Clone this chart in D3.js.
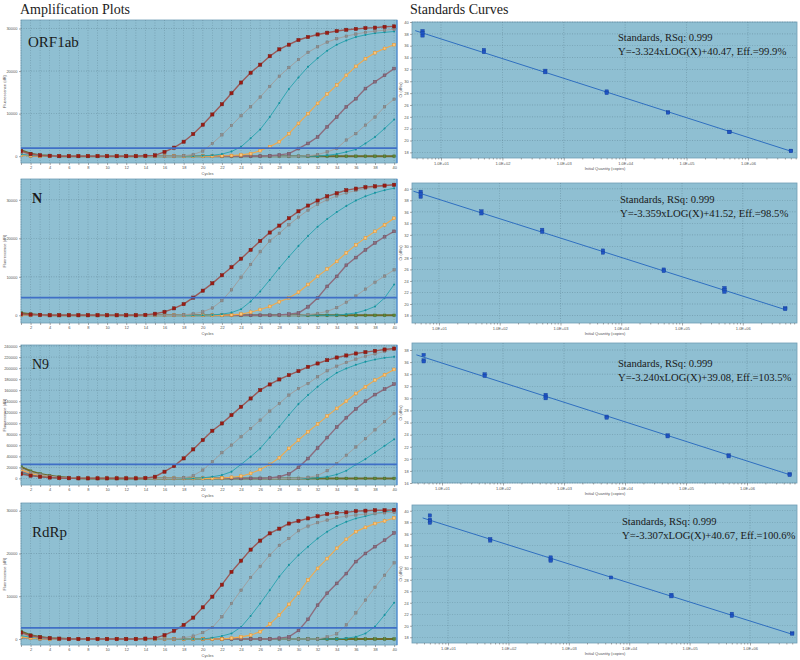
<!DOCTYPE html>
<html>
<head>
<meta charset="utf-8">
<script src="https://cdn.jsdelivr.net/npm/d3@7"></script>
<style>
  body { margin: 0; background: #ffffff; }
  svg { display: block; }
</style>
</head>
<body>
<div id="chart"></div>
<script>
// ---------- data (fluorescence in thousands of RFU, cycles 1..40) ----------
const cycles = d3.range(1, 41);
const panelNames = ['ORF1ab', 'N', 'N9', 'RdRp'];

// order of curves: 5e6, 5e5, 5e4, 5e3, 5e2, 50, 5 copies
const orf1abCurves = [
  [1.2,0.5,0.2,0.1,0,0,0,0,0,0, 0,0,0,0.1,0.2,1.0,2.0,3.4,5.2,7.4, 9.8,12.2,14.8,17.3,19.6,21.5,23.5,25.1,26.2,27.3, 28.0,28.6,29.0,29.4,29.7,29.9,30.1,30.2,30.4,30.5],
  [1.0,0.4,0.2,0.1,0,0,0,0,0,0, 0,0,0,0,0,0,0,0.1,0.4,1.2, 3.0,5.0,7.2,9.5,11.6,13.9,16.4,18.8,20.8,22.7, 24.4,25.7,26.8,27.6,28.2,28.7,29.1,29.4,29.6,29.8],
  [0.4,0.2,0.1,0,0,0,0,0,0,0, 0,0,0,0,0,0,0,0,0,0.1, 0.2,0.5,1.1,2.2,4.2,6.3,9.2,12.5,15.8,18.5, 21.0,23.0,24.8,26.2,27.2,28.0,28.5,28.9,29.1,29.3],
  [0.2,0.1,0,0,0,0,0,0,0,0, 0,0,0,0,0,0,0,0,0,0, 0,0.1,0.15,0.3,0.6,1.3,2.2,3.4,5.3,7.7, 10.0,12.4,14.6,16.7,19.0,21.1,22.9,24.3,25.3,26.2],
  [0.3,0.1,0,0,0,0,0,0,0,0, 0,0,0,0,0,0,0,0,0,0, 0,0,0,0,0,0,0.1,0.3,0.6,1.8, 3.0,4.5,6.9,9.2,11.6,13.5,15.9,17.5,19.0,20.6],
  [0.3,0.1,0,0,0,0,0,0,0,0, 0,0,0,0,0,0,0,0,0,0, 0,0,0,0,0,0,0,0,0,0, 0.1,0.4,1.0,1.8,3.8,5.3,7.3,9.2,11.6,13.4],
  [0.2,0.1,0,0,0,0,0,0,0,0, 0,0,0,0,0,0,0,0,0,0, 0,0,0,0,0,0,0,0,0,0, 0,0,0.2,0.5,1.0,1.6,3.0,4.5,6.5,8.6]
];
const orf1abNegative = [1.4,0.6,0.2,0.1,0,0,0,0,0,0, 0,0,0,0,0,0,0,0,0,0, 0,0,0,0,0,0,0,0,0,0, 0,0,0,0,0,0,0,0,0,0];

const nCurves = [
  [0.3,0.2,0.1,0,0,0,0,0,0,0, 0,0,0,0.1,0.4,0.9,1.8,2.9,4.6,6.4, 8.3,10.4,12.5,14.7,17.0,19.3,21.5,23.3,25.2,27.0, 28.5,29.8,30.9,31.7,32.5,32.9,33.3,33.5,33.7,33.9],
  [0.2,0.1,0,0,0,0,0,0,0,0, 0,0,0,0,0,0,0,0.1,0.4,0.9, 1.9,3.8,6.6,9.9,13.2,16.5,19.3,21.3,23.5,25.5, 27.3,28.8,30.0,31.0,31.8,32.4,32.9,33.3,33.6,33.9],
  [0.2,0.1,0,0,0,0,0,0,0,0, 0,0,0,0,0,0,0,0,0,0, 0.1,0.3,0.7,1.6,3.6,6.2,9.2,12.3,15.2,18.0, 20.6,23.0,25.0,26.8,28.4,29.8,30.9,31.8,32.5,33.0],
  [0.1,0,0,0,0,0,0,0,0,0, 0,0,0,0,0,0,0,0,0,0, 0,0,0.1,0.3,0.8,1.5,2.3,3.5,4.5,6.0, 8.0,10.1,12.0,14.0,16.2,18.3,20.1,21.8,23.5,25.2],
  [0.1,0,0,0,0,0,0,0,0,0, 0,0,0,0,0,0,0,0,0,0, 0,0,0,0,0,0,0,0.1,0.3,0.6, 2.2,4.5,7.5,10.1,13.0,15.0,17.0,18.8,20.4,21.8],
  [0.1,0,0,0,0,0,0,0,0,0, 0,0,0,0,0,0,0,0,0,0, 0,0,0,0,0,0,0,0,0,0, 0.2,0.5,1.0,2.0,3.4,5.0,6.8,8.6,10.2,11.8],
  [0.1,0,0,0,0,0,0,0,0,0, 0,0,0,0,0,0,0,0,0,0, 0,0,0,0,0,0,0,0,0,0, 0,0,0,0,0.3,0.6,1.3,2.3,4.5,8.0]
];
const nNegative = [0.6,0.3,0.1,0,0,0,0,0,0,0, 0,0,0,0,0,0,0,0,0,0, 0,0,0,0,0,0,0,0,0,0, 0,0,0,0,0,0,0,0,0,0];

const n9Curves = [
  [8,5,3,1.5,0.8,0.3,0.1,0,0,0, 0,0,0,0.5,3.0,12.1,22.4,36.3,52.6,69.5, 86.4,99.7,114.8,129.9,145.0,160.1,170.4,179.5,187.3,194.6, 202.4,208.5,214.5,219.3,223.0,226.6,229.0,231.4,233.8,235.6],
  [18,11,7,4,2,1,0.4,0,0,0, 0,0,0,0,0,0,0,1.0,5.0,15.1, 30.2,46.5,60.4,75.5,90.6,105.7,122.1,135.9,151.1,163.1, 172.2,184.3,195.2,203.6,210.3,216.3,221.8,226.0,230.2,233.8],
  [10,6,3,1.5,0.7,0.3,0,0,0,0, 0,0,0,0,0,0,0,0,0,1.0, 3.0,6.0,12.1,25.4,39.3,54.4,74.3,93.7,115.0,135.0, 151.1,166.2,179.5,191.5,199.4,206.0,211.5,215.7,218.7,220.5],
  [16,9,5,2.5,1,0.4,0,0,0,0, 0,0,0,0,0,0,0,0,0,0, 0,0.8,2.0,4.0,9.0,16.0,25.4,37.5,54.4,69.5, 84.6,98.5,113.0,126.9,140.0,154.1,166.2,178.2,188.0,197.6],
  [12,7,4,2,1,0.3,0,0,0,0, 0,0,0,0,0,0,0,0,0,0, 0,0,0,0,0,0,1.0,3.0,8.0,20.0, 36.0,55.0,74.0,93.0,110.0,126.0,140.0,152.0,162.0,171.0],
  [15,9,5,2.5,1,0.4,0,0,0,0, 0,0,0,0,0,0,0,0,0,0, 0,0,0,0,0,0,0,0,0,0, 2.0,5.0,14.0,27.0,42.0,57.0,72.0,88.0,103.0,118.0],
  [9,5,3,1.5,0.6,0.2,0,0,0,0, 0,0,0,0,0,0,0,0,0,0, 0,0,0,0,0,0,0,0,0,0, 0,1.0,3.0,7.0,14.0,25.0,35.0,47.0,59.0,71.0]
];
const n9Negative = [21,13,8,5,2.5,1,0.3,0,0,0, 0,0,0,0,0,0,0,0,0,0, 0,0,0,0,0,0,0,0,0,0, 0,0,0,0,0,0,0,0,0,0];

const rdrpCurves = [
  [1.5,0.8,0.4,0.2,0.1,0,0,0,0,0, 0,0,0,0.1,0.2,0.9,1.9,3.3,5.0,7.4, 9.9,12.7,15.7,18.3,20.9,23.0,24.7,25.8,27.0,27.6, 28.2,28.7,29.2,29.5,29.6,29.9,30.0,30.1,30.1,30.2],
  [1.2,0.6,0.3,0.1,0,0,0,0,0,0, 0,0,0,0,0,0,0,0.3,0.7,1.5, 2.7,5.2,8.3,11.4,14.4,17.0,19.6,21.9,23.5,25.3, 26.4,27.2,27.8,28.4,28.7,29.0,29.2,29.3,29.5,29.6],
  [0.8,0.4,0.2,0.1,0,0,0,0,0,0, 0,0,0,0,0,0,0,0,0,0, 0.3,0.7,1.3,2.8,5.4,8.3,11.4,14.6,17.3,19.6, 21.6,23.5,25.1,26.4,27.4,28.2,28.7,29.3,29.7,30.1],
  [0.5,0.2,0.1,0,0,0,0,0,0,0, 0,0,0,0,0,0,0,0,0,0, 0,0,0.2,0.5,0.9,1.7,3.5,5.6,8.1,10.7, 13.8,16.5,18.8,21.2,23.3,25.1,26.1,27.0,27.6,28.3],
  [0.4,0.2,0.1,0,0,0,0,0,0,0, 0,0,0,0,0,0,0,0,0,0, 0,0,0,0,0,0,0,0.2,0.5,2.0, 4.6,7.9,10.7,13.0,15.3,18.1,20.0,21.6,23.1,24.8],
  [0.3,0.1,0,0,0,0,0,0,0,0, 0,0,0,0,0,0,0,0,0,0, 0,0,0,0,0,0,0,0,0,0, 0,0,0.5,1.2,3.3,6.1,9.1,12.1,14.9,17.8],
  [0.3,0.1,0,0,0,0,0,0,0,0, 0,0,0,0,0,0,0,0,0,0, 0,0,0,0,0,0,0,0,0,0, 0,0,0,0,0.2,0.5,1.3,2.9,5.6,8.5]
];
const rdrpNegative = [1.8,0.9,0.5,0.2,0.1,0,0,0,0,0, 0,0,0,0,0,0,0,0,0,0, 0,0,0,0,0,0,0,0,0,0, 0,0,0,0,0,0,0,0,0,0];

const thresholds = [1900, 4600, 25400, 2600];
const ampYTicks = [
  [0, 10000, 20000, 30000],
  [0, 10000, 20000, 30000],
  d3.range(0, 240001, 20000),
  [0, 10000, 20000, 30000]
];

// standard curves: copies per reaction and replicate Ct values
const quantities = [5, 50, 500, 5000, 50000, 500000, 5000000];
const orf1abStdCt = [[38.5,38.1,37.7],[35.3,34.9],[31.8,31.5],[28.3,28.0],[24.8,24.7],[21.5,21.4],[18.3,18.2]];
const nStdCt = [[39.5,39.1,38.6],[36.1,35.7],[32.9,32.5],[29.3,28.9],[26.0,25.7],[22.8,22.4,22.1],[19.3,19.1]];
const n9StdCt = [[37.2,36.3,36.1],[34.0,33.7],[30.6,30.3,30.0],[27.0,26.8],[23.9,23.7],[20.6,20.4],[17.5,17.3]];
const rdrpStdCt = [[39.2,38.5,38.2,37.9],[35.1,34.8],[31.9,31.5,31.3],[28.4],[25.4,25.1],[22.1,21.7],[18.7,18.6]];

const slopes = [-3.324, -3.359, -3.240, -3.307];
const intercepts = [40.47, 41.52, 39.08, 40.67];
const efficiencies = ['99.9%', '98.5%', '103.5%', '100.6%'];
const rsq = ['0.999', '0.999', '0.999', '0.999'];
const decadeTicks = [1e1, 1e2, 1e3, 1e4, 1e5, 1e6];

const allCurves = [orf1abCurves, nCurves, n9Curves, rdrpCurves];
const allNegatives = [orf1abNegative, nNegative, n9Negative, rdrpNegative];
const allStdCt = [orf1abStdCt, nStdCt, n9StdCt, rdrpStdCt];

// ---------- layout / styles ----------
const ampBoxes = [
  { top: 20, bottom: 163, yDomain: [-1600, 32000] },
  { top: 179, bottom: 323, yDomain: [-2000, 35400] },
  { top: 345, bottom: 485, yDomain: [-12000, 242000] },
  { top: 503, bottom: 645, yDomain: [-1400, 31800] }
];
const stdBoxes = [
  { top: 22, bottom: 158, yDomain: [17.05, 40], xDomain: [3.37, 6.3e6], yTicks: d3.range(18, 41, 2) },
  { top: 183, bottom: 323, yDomain: [16.7, 41.0], xDomain: [3.6, 7.8e6], yTicks: d3.range(18, 41, 2) },
  { top: 343, bottom: 483, yDomain: [16.0, 39.16], xDomain: [3.22, 6.6e6], yTicks: d3.range(16, 39, 2) },
  { top: 505, bottom: 643, yDomain: [17.0, 41.0], xDomain: [2.53, 6.0e6], yTicks: d3.range(18, 41, 2) }
];
const nameLabels = [
  { x: 28, y: 47, size: 15, weight: 'normal' },
  { x: 32, y: 203, size: 14, weight: 'bold' },
  { x: 32, y: 369, size: 14, weight: 'normal' },
  { x: 32, y: 537, size: 15, weight: 'normal' }
];
const stdTextPos = [
  { x: 618, y: 41 }, { x: 620, y: 203 }, { x: 618, y: 367 }, { x: 622, y: 525 }
];

const curveStyles = [
  { line: '#9a5a58', lw: 1.4, mark: 'square', size: 3.2, fill: '#9c1a12', stroke: '#74201a' },
  { line: '#a0a0a0', lw: 1, mark: 'square', size: 2.4, fill: '#8f8f8f', stroke: '#7a7a7a' },
  { line: '#26a3ae', lw: 0.9, mark: 'circle', size: 1, fill: '#14909c', stroke: 'none' },
  { line: '#f2aa4c', lw: 1.1, mark: 'square', size: 2.8, fill: '#f8c47c', stroke: '#e8952c' },
  { line: '#8c6d7e', lw: 1.4, mark: 'square', size: 2.8, fill: '#8a6c7d', stroke: '#6e5262' },
  { line: '#a2a2a2', lw: 1, mark: 'square', size: 2.4, fill: '#8f8f8f', stroke: '#7a7a7a' },
  { line: '#26a3ae', lw: 0.9, mark: 'circle', size: 1, fill: '#14909c', stroke: 'none' }
];
const negativeStyle = { line: '#6d6a2a', lw: 2, mark: 'square', size: 2.6, fill: '#5a8a3a', stroke: '#4a6a2c' };

const plotBg = '#8fbfd2';
const gridColor = '#34505e';
const tickFont = 4;
const serif = "'Liberation Serif', 'DejaVu Serif', serif";

const ampX = d3.scaleLinear().domain([1, 40.3]).range([21, 397]);
const stdLeft = 412, stdRight = 797;

const svg = d3.select('#chart').append('svg')
  .attr('width', 800).attr('height', 660)
  .style('font-family', "'Liberation Sans', Arial, sans-serif");

// Titles
svg.append('text').attr('x', 20).attr('y', 13.5)
  .style('font-family', serif)
  .attr('font-size', 14).attr('fill', '#222').text('Amplification Plots');
svg.append('text').attr('x', 410).attr('y', 13.5)
  .style('font-family', serif)
  .attr('font-size', 14).attr('fill', '#222').text('Standards Curves');

const styleAxis = (g) => {
  g.select('.domain').remove();
  g.selectAll('.tick line').attr('stroke', '#555').attr('stroke-width', 0.5);
  g.selectAll('.tick text').attr('font-size', tickFont).attr('fill', '#555');
};

const drawMarks = (g, values, x, y, st) => {
  const pts = values.map((v, i) => [cycles[i], v * 1000]);
  g.append('path')
    .datum(pts)
    .attr('fill', 'none')
    .attr('stroke', st.line)
    .attr('stroke-width', st.lw)
    .attr('d', d3.line().x((d) => x(d[0])).y((d) => y(d[1])));
  if (st.mark === 'circle') {
    g.selectAll(null).data(pts).join('circle')
      .attr('cx', (d) => x(d[0])).attr('cy', (d) => y(d[1]))
      .attr('r', st.size).attr('fill', st.fill);
  } else {
    g.selectAll(null).data(pts).join('rect')
      .attr('x', (d) => x(d[0]) - st.size / 2).attr('y', (d) => y(d[1]) - st.size / 2)
      .attr('width', st.size).attr('height', st.size)
      .attr('fill', st.fill).attr('stroke', st.stroke).attr('stroke-width', 0.5);
  }
};

// ---------- amplification plots ----------
ampBoxes.forEach((box, p) => {
  const y = d3.scaleLinear().domain(box.yDomain).range([box.bottom, box.top]);
  const [x0, x1] = ampX.range();
  const g = svg.append('g');

  g.append('clipPath').attr('id', `amp-clip-${p}`)
    .append('rect').attr('x', x0).attr('y', box.top)
    .attr('width', x1 - x0).attr('height', box.bottom - box.top);

  g.append('rect')
    .attr('x', x0).attr('y', box.top)
    .attr('width', x1 - x0).attr('height', box.bottom - box.top)
    .attr('fill', plotBg).attr('stroke', '#6e9db4').attr('stroke-width', 0.8);

  // grid
  g.append('g').selectAll('line').data(cycles).join('line')
    .attr('x1', (d) => ampX(d)).attr('x2', (d) => ampX(d))
    .attr('y1', box.top).attr('y2', box.bottom)
    .attr('stroke', gridColor).attr('stroke-width', 0.5)
    .attr('stroke-dasharray', '1,1.5').attr('opacity', 0.45);
  g.append('g').selectAll('line').data(ampYTicks[p]).join('line')
    .attr('x1', x0).attr('x2', x1)
    .attr('y1', (d) => y(d)).attr('y2', (d) => y(d))
    .attr('stroke', gridColor).attr('stroke-width', 0.5)
    .attr('stroke-dasharray', '1,1.5').attr('opacity', 0.5);

  // axes
  g.append('g').attr('transform', `translate(${x0},0)`)
    .call(d3.axisLeft(y).tickValues(ampYTicks[p]).tickSize(2).tickPadding(1.5).tickFormat(d3.format('d')))
    .call(styleAxis);
  g.append('g').attr('transform', `translate(0,${box.bottom})`)
    .call(d3.axisBottom(ampX).tickValues(cycles).tickSize(2).tickPadding(1)
      .tickFormat((d) => (d % 2 === 0 ? d : '')))
    .call(styleAxis);

  g.append('text').attr('x', ampX(20.5)).attr('y', box.bottom + 12)
    .attr('text-anchor', 'middle').attr('font-size', tickFont).attr('fill', '#555').text('Cycles');
  g.append('text')
    .attr('transform', `translate(6,${(box.top + box.bottom) / 2}) rotate(-90)`)
    .attr('text-anchor', 'middle').attr('font-size', tickFont).attr('fill', '#555')
    .text('Fluorescence (dR)');

  // curves
  const plot = g.append('g').attr('clip-path', `url(#amp-clip-${p})`);
  drawMarks(plot, allNegatives[p], ampX, y, negativeStyle);
  for (let i = allCurves[p].length - 1; i >= 0; i -= 1) {
    drawMarks(plot, allCurves[p][i], ampX, y, curveStyles[i]);
  }

  // threshold
  plot.append('line')
    .attr('x1', x0).attr('x2', x1)
    .attr('y1', y(thresholds[p])).attr('y2', y(thresholds[p]))
    .attr('stroke', '#3f6fc6').attr('stroke-width', 1.6);

  // right edge marker line
  g.append('line').attr('x1', x1).attr('x2', x1)
    .attr('y1', box.top).attr('y2', box.bottom)
    .attr('stroke', '#3d80d8').attr('stroke-width', 1);

  const lab = nameLabels[p];
  g.append('text').attr('x', lab.x).attr('y', lab.y)
    .style('font-family', serif)
    .attr('font-size', lab.size).attr('font-weight', lab.weight)
    .attr('fill', '#1a1a1a').text(panelNames[p]);
});

// ---------- standard curves ----------
stdBoxes.forEach((box, p) => {
  const x = d3.scaleLog().domain(box.xDomain).range([stdLeft, stdRight]);
  const y = d3.scaleLinear().domain(box.yDomain).range([box.bottom, box.top]);
  const g = svg.append('g');

  g.append('rect')
    .attr('x', stdLeft).attr('y', box.top)
    .attr('width', stdRight - stdLeft).attr('height', box.bottom - box.top)
    .attr('fill', plotBg).attr('stroke', '#6e9db4').attr('stroke-width', 0.8);

  g.append('g').selectAll('line').data(box.yTicks).join('line')
    .attr('x1', stdLeft).attr('x2', stdRight)
    .attr('y1', (d) => y(d)).attr('y2', (d) => y(d))
    .attr('stroke', gridColor).attr('stroke-width', 0.5)
    .attr('stroke-dasharray', '1,1.5').attr('opacity', 0.5);
  g.append('g').selectAll('line').data(decadeTicks).join('line')
    .attr('x1', (d) => x(d)).attr('x2', (d) => x(d))
    .attr('y1', box.top).attr('y2', box.bottom)
    .attr('stroke', gridColor).attr('stroke-width', 0.5)
    .attr('stroke-dasharray', '1,1.5').attr('opacity', 0.5);

  g.append('g').attr('transform', `translate(${stdLeft},0)`)
    .call(d3.axisLeft(y).tickValues(box.yTicks).tickSize(2).tickPadding(1.2))
    .call(styleAxis);

  const minorTicks = [];
  for (let e = 0; e <= 6; e += 1) {
    for (let m = 2; m <= 9; m += 1) {
      const v = m * 10 ** e;
      if (v > box.xDomain[0] && v < box.xDomain[1]) minorTicks.push(v);
    }
  }
  g.append('g').attr('transform', `translate(0,${box.bottom})`)
    .call(d3.axisBottom(x).tickValues(minorTicks).tickSize(1.5).tickFormat(''))
    .call(styleAxis);
  g.append('g').attr('transform', `translate(0,${box.bottom})`)
    .call(d3.axisBottom(x).tickValues(decadeTicks).tickSize(2.5).tickPadding(1.5)
      .tickFormat((d) => `1.0E+0${Math.round(Math.log10(d))}`))
    .call(styleAxis);

  g.append('text').attr('x', 605).attr('y', box.bottom + 12)
    .attr('text-anchor', 'middle').attr('font-size', tickFont).attr('fill', '#555')
    .text('Initial Quantity (copies)');
  g.append('text')
    .attr('transform', `translate(402,${(box.top + box.bottom) / 2}) rotate(-90)`)
    .attr('text-anchor', 'middle').attr('font-size', tickFont).attr('fill', '#555')
    .text('Ct (dRn)');

  // regression line
  const fitLine = [3.8, quantities[quantities.length - 1]].map((q) => [q, slopes[p] * Math.log10(q) + intercepts[p]]);
  g.append('path').datum(fitLine)
    .attr('fill', 'none').attr('stroke', '#2f6fc0').attr('stroke-width', 1)
    .attr('d', d3.line().x((d) => x(d[0])).y((d) => y(d[1])));

  // replicate points
  const pts = [];
  allStdCt[p].forEach((reps, i) => reps.forEach((ct) => pts.push([quantities[i], ct])));
  g.append('g').selectAll('rect').data(pts).join('rect')
    .attr('x', (d) => x(d[0]) - 1.7).attr('y', (d) => y(d[1]) - 1.5)
    .attr('width', 3.4).attr('height', 3)
    .attr('fill', '#1f55c4').attr('stroke', '#17409a').attr('stroke-width', 0.4);

  const t = stdTextPos[p];
  const line1 = `Standards, RSq: ${rsq[p]}`;
  const line2 = `Y=${slopes[p].toFixed(3)}xLOG(X)+${intercepts[p].toFixed(2)}, Eff.=${efficiencies[p]}`;
  const txt = g.append('text')
    .style('font-family', serif)
    .attr('font-size', 11).attr('fill', '#1a1a1a');
  txt.append('tspan').attr('x', t.x).attr('y', t.y)
    .attr('textLength', line1.length * 4.5).attr('lengthAdjust', 'spacingAndGlyphs')
    .text(line1);
  txt.append('tspan').attr('x', t.x).attr('y', t.y + 13.5)
    .attr('textLength', line2.length * 5.1).attr('lengthAdjust', 'spacingAndGlyphs')
    .text(line2);
});
</script>
</body>
</html>
